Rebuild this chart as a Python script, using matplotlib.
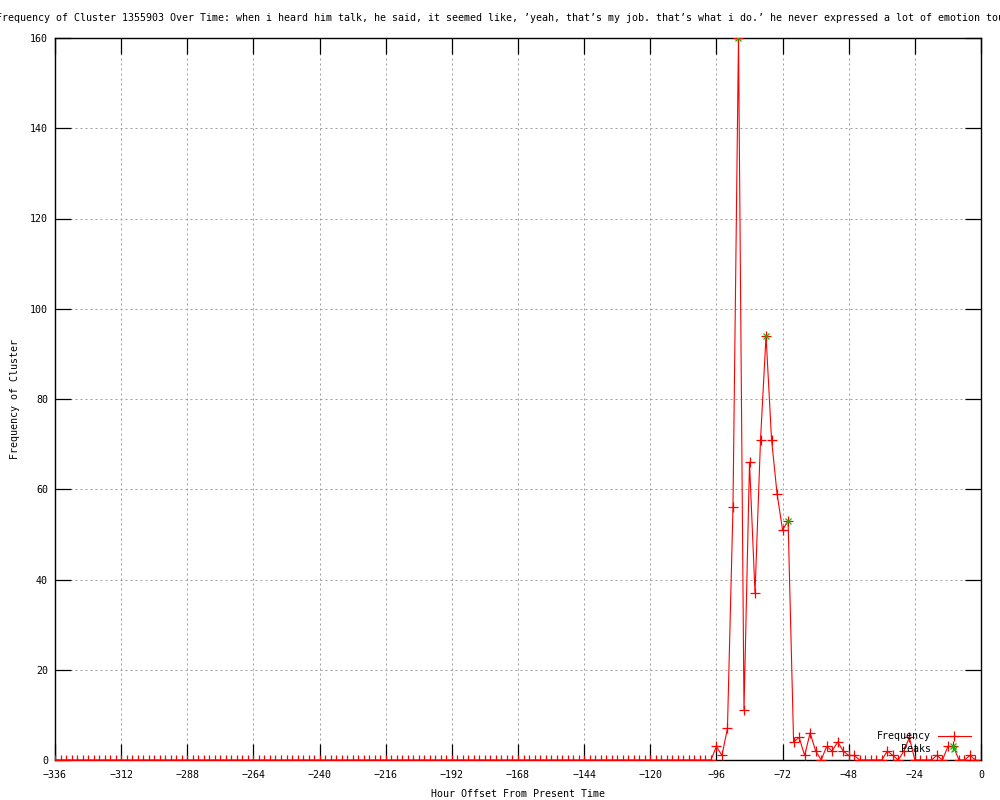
import matplotlib
matplotlib.use("Agg")
import matplotlib.pyplot as plt

plt.rcParams['font.family'] = ['DejaVu Sans Mono']

title = ("Frequency of Cluster 1355903 Over Time: when i heard him talk, he said, it seemed like, "
         "\u2019yeah, that\u2019s my job. that\u2019s what i do.\u2019 he never expressed a lot of emotion tou")
xlabel = "Hour Offset From Present Time"
ylabel = "Frequency of Cluster"

hours = list(range(-336, 0, 2))
frequency = [
    0, 0, 0, 0, 0, 0, 0, 0, 0, 0, 0, 0, 0, 0, 0, 0, 0, 0, 0, 0,
    0, 0, 0, 0, 0, 0, 0, 0, 0, 0, 0, 0, 0, 0, 0, 0, 0, 0, 0, 0,
    0, 0, 0, 0, 0, 0, 0, 0, 0, 0, 0, 0, 0, 0, 0, 0, 0, 0, 0, 0,
    0, 0, 0, 0, 0, 0, 0, 0, 0, 0, 0, 0, 0, 0, 0, 0, 0, 0, 0, 0,
    0, 0, 0, 0, 0, 0, 0, 0, 0, 0, 0, 0, 0, 0, 0, 0, 0, 0, 0, 0,
    0, 0, 0, 0, 0, 0, 0, 0, 0, 0, 0, 0, 0, 0, 0, 0, 0, 0, 0, 0,
    3, 1, 7, 56, 160, 11, 66, 37, 71, 94,
    71, 59, 51, 53, 4, 5, 1, 6, 2, 0,
    3, 2, 4, 2, 1, 1, 0, 0, 0, 0,
    0, 2, 1, 0, 2, 5, 0, 0, 0, 0,
    1, 0, 3, 3, 0, 0, 1, 0,
]
peak_hours = [-88, -78, -70, -10]
peak_values = [160, 94, 53, 3]

xticks = list(range(-336, 1, 24))
yticks = list(range(0, 161, 20))

fig = plt.figure(figsize=(10, 8), dpi=100)
ax = fig.add_axes([0.055, 0.05, 0.926, 0.9025])

fs = 7.2
ax.plot(hours, frequency, color='#ff0000', lw=0.8, marker='+', markersize=7,
        markeredgewidth=0.9, label='Frequency', zorder=3)
ax.plot(peak_hours, peak_values, color='#00c000', lw=0, marker='x', markersize=5,
        markeredgewidth=0.9, label='Peaks', zorder=4)

ax.set_xlim(-336, 0)
ax.set_ylim(0, 160)
ax.set_xticks(xticks)
ax.set_yticks(yticks)
ax.set_xticklabels([str(t).replace('-', '\u2212') for t in xticks], fontsize=fs)
ax.set_yticklabels([str(t) for t in yticks], fontsize=fs)
ax.tick_params(direction='in', length=11.5, width=0.9, top=True, right=True, pad=5, colors='black')
ax.tick_params(axis='x', pad=7)
ax.grid(True, color='#a0a0a0', lw=0.72, linestyle=(0, (2, 3)))
for s in ax.spines.values():
    s.set_linewidth(1.0)
    s.set_color('black')

ax.set_xlabel(xlabel, fontsize=fs, labelpad=7)
ax.set_ylabel(ylabel, fontsize=fs, labelpad=7)
fig.text(-0.004, 0.977, title, fontsize=fs, ha='left', va='center')

leg = ax.legend(loc='lower right', bbox_to_anchor=(0.989, 0.008), frameon=False,
                markerfirst=False, fontsize=fs, handlelength=3.3, handletextpad=0.7,
                labelspacing=0.3, borderpad=0.0, borderaxespad=0.0)

fig.savefig('out.png', dpi=100)
